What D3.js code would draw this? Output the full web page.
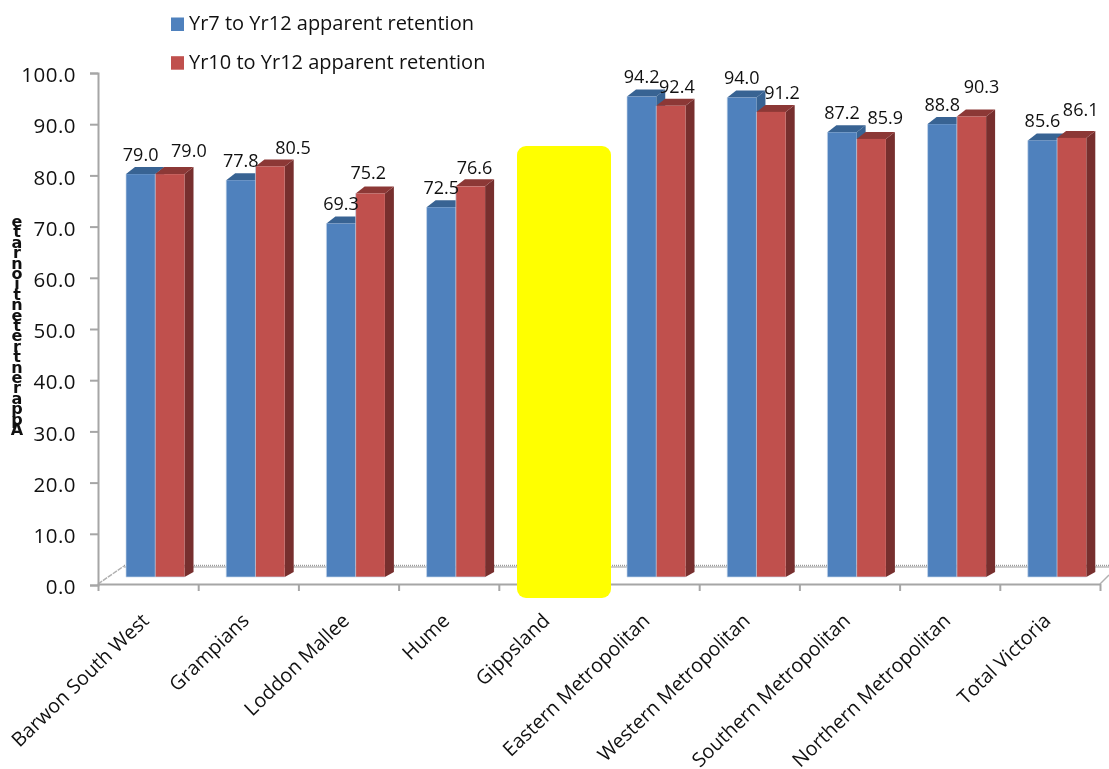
<!DOCTYPE html>
<html><head><meta charset="utf-8">
<script src="https://cdn.jsdelivr.net/npm/d3@7/dist/d3.min.js"></script>
<style>
html,body{margin:0;padding:0;background:#fff}
svg{display:block;filter:blur(0.45px)}
text{font-family:"Open Sans",sans-serif;fill:#111}
</style></head><body><div id="c"></div>
<script>
const categories = ["Barwon South West","Grampians","Loddon Mallee","Hume","Gippsland","Eastern Metropolitan","Western Metropolitan","Southern Metropolitan","Northern Metropolitan","Total Victoria"];
const seriesNames = ["Yr7 to Yr12 apparent retention","Yr10 to Yr12 apparent retention"];
// Gippsland is covered by the yellow mark in the picture: its values cannot be read
const yr7Values = [79.0,77.8,69.3,72.5,null,94.2,94.0,87.2,88.8,85.6];
const yr10Values = [79.0,80.5,75.2,76.6,null,92.4,91.2,85.9,90.3,86.1];
const yTicks = [0,10,20,30,40,50,60,70,80,90,100];
const yTitle = "Apparent retention rate";

// hand-placed label nudges in the reference (layout only)
const redLabelDx = [19,23,-2,4,0,6,11,14,10,9];
const redLabelDy = [24,18.5,20.5,19,0,19,19,21,29.5,28];

const W=1109,H=769;
const svg=d3.select("#c").append("svg").attr("width",W).attr("height",H);
const yAxisScale=d3.scaleLinear().domain([0,100]).range([585,73]);
const yBar=d3.scaleLinear().domain([0,100]).range([577,67]);
const xEdge=d3.scaleLinear().domain([0,categories.length]).range([97,1099]);
const xBand=d3.scaleBand().domain(categories).range([98,1100]);
const xSeries=d3.scaleBand().domain(seriesNames).range([28,86.5]);
const DX=9,DY=7,DYB=5;
const axisCol="#a6a6a6";

// floor
const floor=svg.append("g");
floor.append("line").attr("x1",124).attr("x2",W).attr("y1",567).attr("y2",567).attr("stroke","#bdbdbd").attr("stroke-width",1.5);
floor.append("line").attr("x1",124).attr("x2",W).attr("y1",565.5).attr("y2",565.5).attr("stroke","#9a9a9a").attr("stroke-width",1.5).attr("stroke-dasharray","1 1");
floor.append("line").attr("x1",98).attr("y1",584).attr("x2",124).attr("y2",566).attr("stroke","#b0b0b0").attr("stroke-width",1.5).attr("stroke-dasharray","5 1");
floor.append("line").attr("x1",1100).attr("y1",584).attr("x2",1109).attr("y2",575).attr("stroke","#b0b0b0").attr("stroke-width",1.5);

// axes
const gy=svg.append("g").attr("transform","translate(98,0)")
  .call(d3.axisLeft(yAxisScale).tickValues(yTicks).tickFormat(d3.format(".1f")).tickSize(8).tickPadding(14));
gy.selectAll("text").attr("font-size",20.5).attr("dy","0.42em").style("letter-spacing","0.5px");
const gx=svg.append("g").attr("transform","translate(1,584)")
  .call(d3.axisBottom(xEdge).tickValues(d3.range(categories.length+1)).tickFormat("").tickSize(7).tickSizeOuter(0));
[gy,gx].forEach(g=>{g.selectAll("path,line").attr("stroke",axisCol).attr("stroke-width",2);});

// bars
function bar3d(g,x0,w,v,front,top,side){
  const t=yBar(v),b=yBar(0),x1=x0+w;
  g.append("polygon").attr("points",[[x1,b],[x1+DX,b-DYB],[x1+DX,t-DY],[x1,t]].join(" ")).attr("fill",side);
  g.append("polygon").attr("points",[[x0,t],[x0+DX,t-DY],[x1+DX,t-DY],[x1,t]].join(" ")).attr("fill",top);
  g.append("rect").attr("x",x0).attr("y",t).attr("width",w).attr("height",b-t).attr("fill",front);
  g.append("path").attr("d",`M${x0},${t}V${b}H${x1}`).attr("fill","none")
    .attr("stroke","#c6d6ea").attr("stroke-width",0.9).attr("stroke-opacity",0.75);
}
const barsG=svg.append("g");
const palette=[["#4f81bd","#386393","#386393"],["#c0504d","#8c3836","#772f2e"]];
categories.forEach((c,i)=>{
  [yr7Values,yr10Values].forEach((vals,s)=>{
    if(vals[i]==null)return;
    bar3d(barsG,xBand(c)+xSeries(seriesNames[s]),xSeries.bandwidth(),vals[i],...palette[s]);
  });
});

// data labels
const lab=svg.append("g").attr("text-anchor","middle").attr("font-size",18);
categories.forEach((c,i)=>{
  if(yr7Values[i]!=null)
    lab.append("text").attr("x",xBand(c)+xSeries(seriesNames[0])+xSeries.bandwidth()/2)
      .attr("y",yBar(yr7Values[i])-20+6.5).text(yr7Values[i].toFixed(1));
  if(yr10Values[i]!=null)
    lab.append("text").attr("x",xBand(c)+xSeries(seriesNames[1])+xSeries.bandwidth()/2+redLabelDx[i])
      .attr("y",yBar(yr10Values[i])-redLabelDy[i]+6.5).text(yr10Values[i].toFixed(1));
});

// category labels
svg.append("g").selectAll("text").data(categories).join("text")
  .attr("text-anchor","end").attr("font-size",19.8)
  .attr("transform",d=>`translate(${xBand(d)+xBand.bandwidth()/2+2},${622}) rotate(-44)`)
  .text(d=>d);

// yellow mark
svg.append("rect").attr("x",517).attr("y",146).attr("width",94).attr("height",452).attr("rx",9).attr("fill","#ffff00");

// legend
const leg=svg.append("g");
seriesNames.forEach((n,i)=>{
  leg.append("rect").attr("x",171).attr("y",17.5+i*38.7).attr("width",13).attr("height",13.5).attr("fill",palette[i][0]);
  leg.append("text").attr("x",189).attr("y",30+i*39).attr("font-size",20).text(n);
});

// y title: stacked upright letters, bottom to top
const letters=yTitle.replace(/ /g,"").split("");
const yL=d3.scaleLinear().domain([0,letters.length-1]).range([429,221]);
svg.append("g").attr("text-anchor","middle").selectAll("text").data(letters).join("text")
  .attr("x",17).attr("y",(d,i)=>yL(i)+6).attr("font-size",16).attr("font-weight",700)
  .style("font-family",'"DejaVu Sans",sans-serif').text(d=>d);
</script></body></html>
